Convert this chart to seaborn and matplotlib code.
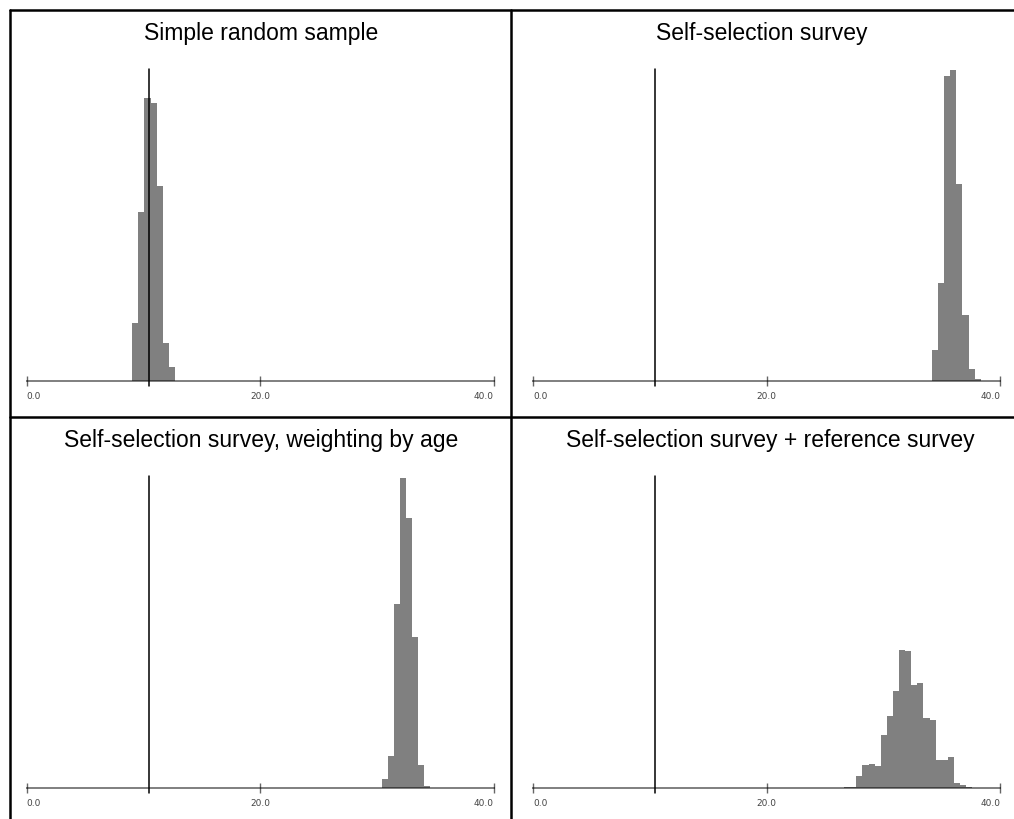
import numpy as np
import pandas as pd
import matplotlib
matplotlib.use("Agg")
import matplotlib.pyplot as plt
from matplotlib.lines import Line2D
import seaborn as sns

# ---------------- data ----------------
titles = [
    "Simple random sample",
    "Self-selection survey",
    "Self-selection survey, weighting by age",
    "Self-selection survey + reference survey",
]
reference_value = 10.45          # vertical reference line
bin_width = 0.523                # common histogram bin width
bin_starts = [9.04, 34.14, 30.39, 26.62]   # left edge of first bin per panel

heights_srs = [58, 169, 283, 278, 195, 38, 14]
heights_self = [31, 98, 305, 311, 197, 66, 12, 2]
heights_age = [9, 32, 184, 310, 270, 151, 23, 2]
heights_ref = [0.7, 0.7, 11.7, 23.3, 24, 21.7, 53.3, 71.7, 96.7, 138.3, 137.3,
               103.3, 105, 70, 67.7, 28.3, 28.3, 30.7, 5, 3.3, 0.7]
all_heights = [heights_srs, heights_self, heights_age, heights_ref]

tick_values = [0, 20, 40]
tick_labels = ["0.0", "20.0", "40.0"]

# ---------------- style ----------------
sns.set_style("white")
plt.rcParams["font.family"] = ["Liberation Sans", "DejaVu Sans"]

W, H = 1014, 820
fig = plt.figure(figsize=(W / 100, H / 100), dpi=100)
fig.patch.set_facecolor("white")


def fx(x):
    return x / W


def fy(y):
    return 1 - y / H


YMAX = 312
AX_W = 467
panel_x0 = [26.7, 533.3, 26.7, 533.3]
panel_base = [382, 382, 789, 789]
title_xc = [261, 762, 261, 770]
title_base = [40, 40, 447, 447]

for i in range(4):
    x0, yb = panel_x0[i], panel_base[i]
    ax = fig.add_axes([fx(x0), fy(yb), AX_W / W, YMAX / H])
    h = all_heights[i]
    edges = [float(e) for e in bin_starts[i] + bin_width * np.arange(len(h) + 1)]
    centers = [(edges[k] + edges[k + 1]) / 2 for k in range(len(h))]
    df = pd.DataFrame({"value": centers, "freq": h})
    sns.histplot(data=df, x="value", weights="freq", bins=edges, ax=ax,
                 color="#808080", alpha=1, linewidth=0, edgecolor="none")
    ax.plot([reference_value, reference_value], [-5, YMAX], color="black",
            lw=1.1, clip_on=False, zorder=5)
    ax.set_xlim(0, 40)
    ax.set_ylim(0, YMAX)
    ax.set_facecolor("none")
    for s in ["left", "right", "top"]:
        ax.spines[s].set_visible(False)
    ax.spines["bottom"].set_color((0, 0, 0, 0.5))
    ax.spines["bottom"].set_linewidth(1.4)
    ax.spines["bottom"].set_zorder(4)
    ax.set_yticks([])
    ax.set_ylabel("")
    ax.set_xlabel("")
    ax.set_xticks(tick_values)
    ax.set_xticklabels(tick_labels, fontsize=6.5, color="#444444",
                       family="DejaVu Sans")
    ax.tick_params(axis="x", direction="inout", length=7, width=1,
                   color="#666666", pad=3.5, bottom=True)
    labs = ax.get_xticklabels()
    labs[0].set_ha("left")
    labs[1].set_ha("center")
    labs[2].set_ha("right")
    fig.text(fx(title_xc[i]), fy(title_base[i]), titles[i], ha="center",
             va="baseline", fontsize=16.5, color="black")

# panel borders
border_kw = dict(color="black", lw=1.8, transform=fig.transFigure)
fig.add_artist(Line2D([fx(10), fx(10)], [fy(11), fy(H)], **border_kw))
fig.add_artist(Line2D([fx(10), fx(W)], [fy(11), fy(11)], **border_kw))
fig.add_artist(Line2D([fx(511), fx(511)], [fy(11), fy(H)], **border_kw))
fig.add_artist(Line2D([fx(10), fx(W)], [fy(418), fy(418)], **border_kw))

fig.savefig("out.png", dpi=100)
